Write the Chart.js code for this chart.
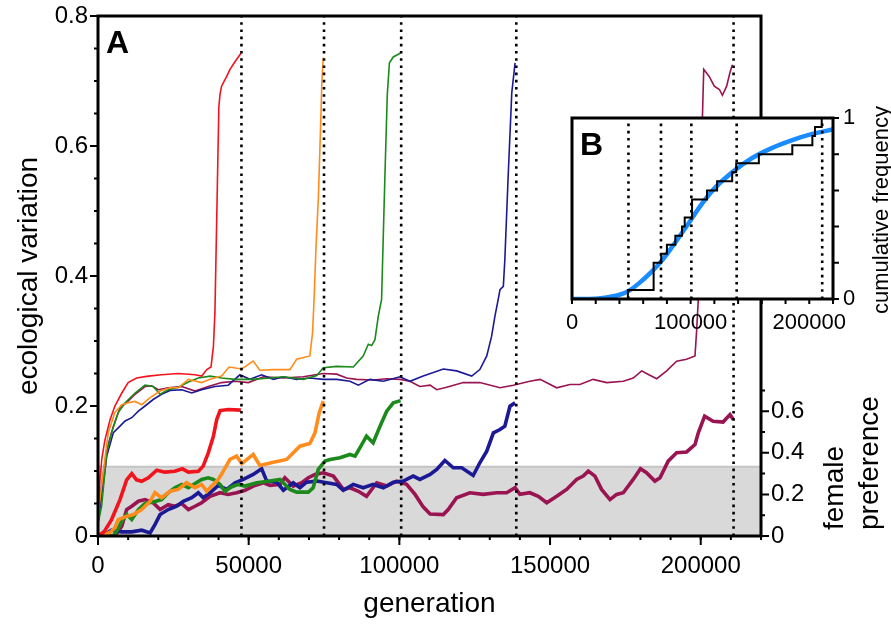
<!DOCTYPE html>
<html>
<head>
<meta charset="utf-8">
<script src="https://cdn.jsdelivr.net/npm/chart.js@4.4.1/dist/chart.umd.min.js"></script>
<style>
  body { margin: 0; background: #fff; }
  #wrap { position: relative; width: 891px; height: 626px; }
  #main { position: absolute; left: 0; top: 0; }
  #inset { position: absolute; left: 540px; top: 95px; }
</style>
</head>
<body>
<div id="wrap">
  <canvas id="main" width="891" height="626"></canvas>
  <canvas id="inset" width="351" height="240"></canvas>
</div>
<script>
// ---- data: [generation, value] ----

// ecological variation (thin lines, left axis)
const redEco = [[0,0.03],[600,0.085],[1300,0.12],[2300,0.148],[4000,0.179],[5600,0.2],[7900,0.22],[10000,0.236],[12800,0.243],[16700,0.246],[21100,0.248],[26600,0.25],[32200,0.248],[34400,0.246],[36100,0.256],[37500,0.26],[38300,0.292],[38800,0.344],[40100,0.66],[40500,0.68],[41000,0.692],[42700,0.707],[43800,0.718],[45500,0.73],[47500,0.743]];
const orangeEco = [[0,0.02],[500,0.05],[1200,0.077],[3400,0.159],[5600,0.19],[7900,0.202],[10000,0.205],[12300,0.207],[14500,0.202],[17300,0.213],[20600,0.223],[23900,0.228],[26600,0.228],[30000,0.241],[34400,0.236],[37200,0.241],[41000,0.246],[43500,0.26],[47700,0.257],[51500,0.269],[53700,0.255],[58200,0.256],[63700,0.256],[65900,0.272],[70300,0.277],[71200,0.313],[71700,0.364],[72300,0.44],[73100,0.518],[73800,0.62],[74300,0.7],[74750,0.736]];
const greenEco = [[0,0.02],[500,0.03],[1200,0.046],[2900,0.128],[4500,0.159],[6700,0.19],[9000,0.205],[12300,0.22],[15600,0.232],[18300,0.23],[20600,0.218],[23300,0.225],[26600,0.229],[30000,0.237],[33300,0.243],[37200,0.246],[41000,0.243],[45500,0.241],[51000,0.241],[57100,0.243],[61500,0.245],[68100,0.241],[72600,0.247],[74750,0.259],[79200,0.261],[84700,0.26],[88000,0.277],[89700,0.295],[90800,0.293],[91900,0.302],[93000,0.338],[94100,0.364],[95200,0.553],[96000,0.68],[96700,0.728],[98000,0.737],[100400,0.743]];
const navyEco = [[0,0.02],[500,0.035],[1200,0.061],[2900,0.123],[5100,0.159],[7300,0.169],[9000,0.177],[11200,0.182],[13400,0.192],[15600,0.2],[18300,0.21],[21100,0.218],[23900,0.224],[27800,0.225],[31100,0.22],[34400,0.225],[38800,0.23],[43200,0.232],[47100,0.248],[50400,0.241],[54300,0.248],[58200,0.241],[61500,0.245],[65900,0.241],[70300,0.243],[74750,0.241],[79200,0.241],[83600,0.238],[86400,0.232],[90200,0.241],[94700,0.238],[100200,0.245],[103500,0.238],[107900,0.246],[114600,0.257],[119000,0.254],[124000,0.246],[126700,0.256],[129000,0.277],[130600,0.307],[131700,0.338],[132800,0.364],[133400,0.379],[134500,0.384],[135000,0.425],[136100,0.553],[137300,0.682],[138400,0.728]];
const maroonEco = [[0,0.02],[500,0.04],[1200,0.077],[2900,0.133],[5100,0.169],[7300,0.197],[9500,0.205],[12300,0.218],[15600,0.23],[17800,0.231],[20000,0.225],[23300,0.228],[27800,0.23],[32200,0.223],[36600,0.23],[41000,0.236],[45500,0.238],[49900,0.236],[54900,0.245],[61500,0.243],[68100,0.245],[74750,0.25],[79200,0.249],[82500,0.243],[85800,0.241],[91300,0.24],[95800,0.242],[100200,0.241],[103500,0.238],[106800,0.23],[110200,0.232],[112400,0.225],[115700,0.229],[121200,0.236],[126700,0.236],[133400,0.228],[137800,0.232],[143300,0.238],[146700,0.241],[152200,0.228],[156600,0.233],[159900,0.233],[164300,0.241],[168800,0.236],[174300,0.238],[177600,0.243],[180400,0.254],[182000,0.25],[185400,0.242],[188700,0.254],[192000,0.269],[195300,0.272],[198100,0.277],[198600,0.313],[199200,0.364],[199700,0.45],[200300,0.6],[201000,0.718],[202800,0.707],[204500,0.692],[206200,0.687],[207200,0.678],[208600,0.692],[209700,0.713],[210500,0.725]];

// female preference (thick lines, right axis)
const redPref = [[0,0],[2000,0.02],[4500,0.079],[7300,0.175],[9500,0.27],[11200,0.3],[12800,0.27],[14500,0.263],[16700,0.28],[19500,0.316],[22200,0.307],[25500,0.311],[28000,0.323],[30000,0.307],[33300,0.311],[34900,0.336],[36600,0.4],[38300,0.48],[39400,0.56],[40500,0.603],[43200,0.608],[47400,0.605]];
const orangePref = [[0,0],[4000,0.017],[5600,0.04],[6700,0.079],[9000,0.092],[11700,0.103],[14500,0.127],[17300,0.167],[18900,0.208],[21100,0.184],[23900,0.215],[26600,0.224],[29400,0.256],[32200,0.232],[34400,0.248],[36100,0.215],[37700,0.24],[39900,0.272],[41600,0.312],[43800,0.368],[46000,0.384],[47700,0.348],[51500,0.392],[53700,0.339],[58200,0.355],[62600,0.368],[64800,0.4],[67000,0.432],[70300,0.445],[72000,0.496],[73400,0.592],[74750,0.648]];
const greenPref = [[0,0],[5000,0],[6500,0.03],[7900,0.071],[9500,0.103],[11200,0.079],[13400,0.127],[15600,0.156],[18300,0.163],[21100,0.175],[23300,0.208],[25500,0.232],[27800,0.248],[30000,0.232],[32200,0.252],[34400,0.272],[36600,0.28],[38300,0.272],[40500,0.248],[42100,0.215],[44400,0.237],[46500,0.248],[48800,0.24],[52700,0.256],[57100,0.264],[60400,0.272],[63700,0.224],[65900,0.211],[69800,0.211],[71400,0.232],[73100,0.32],[75300,0.36],[77000,0.368],[80300,0.376],[83600,0.392],[85300,0.384],[86900,0.424],[89100,0.48],[91300,0.448],[93600,0.528],[95800,0.6],[98000,0.64],[100400,0.651]];
const navyPref = [[0,0],[1500,0],[4500,0.028],[7900,0.02],[11200,0.02],[14500,0.028],[17300,0.015],[18900,0.055],[20600,0.103],[23300,0.127],[26100,0.143],[28300,0.167],[31100,0.184],[33300,0.208],[34900,0.184],[37200,0.208],[39900,0.243],[42700,0.224],[45500,0.256],[48200,0.272],[51500,0.296],[54300,0.323],[56000,0.264],[59300,0.259],[61500,0.22],[64800,0.256],[67000,0.232],[69200,0.259],[72600,0.264],[75900,0.256],[79200,0.248],[81400,0.22],[84700,0.248],[88000,0.232],[91300,0.248],[94700,0.232],[98000,0.259],[101300,0.264],[104600,0.288],[106800,0.272],[110200,0.296],[112400,0.32],[115100,0.363],[117900,0.328],[120700,0.328],[124500,0.291],[126700,0.352],[129000,0.408],[131200,0.496],[133400,0.512],[135000,0.528],[136700,0.624],[138400,0.64]];
const maroonPref = [[0,0],[5600,0],[7900,0.047],[9500,0.127],[11200,0.143],[13400,0.167],[15600,0.175],[18300,0.16],[20600,0.127],[23300,0.151],[25500,0.143],[27800,0.156],[30000,0.127],[32200,0.143],[34400,0.16],[37200,0.191],[40500,0.208],[43200,0.2],[46000,0.208],[48800,0.22],[51500,0.24],[54900,0.256],[57100,0.243],[60400,0.248],[62000,0.28],[64800,0.24],[67600,0.256],[69800,0.28],[72000,0.296],[74750,0.304],[78100,0.288],[81400,0.224],[83600,0.232],[86400,0.215],[89100,0.191],[92500,0.256],[95800,0.24],[99100,0.264],[102400,0.248],[105200,0.2],[107900,0.14],[110200,0.106],[114600,0.103],[116200,0.127],[119000,0.184],[123400,0.208],[127800,0.2],[132300,0.208],[135600,0.208],[138400,0.232],[140000,0.2],[143300,0.208],[146100,0.191],[148900,0.16],[152200,0.191],[155500,0.224],[158800,0.272],[161000,0.288],[162700,0.312],[164900,0.288],[167100,0.224],[169900,0.175],[172100,0.2],[174300,0.208],[177600,0.272],[180000,0.323],[182000,0.304],[184800,0.264],[186500,0.28],[189200,0.36],[192000,0.4],[195300,0.404],[198100,0.44],[199200,0.496],[201300,0.576],[204100,0.552],[207400,0.548],[209700,0.584],[210800,0.56]];

// generation at which each run split (dotted lines)
const splitGens = [47600, 75000, 100600, 138800, 210900];
// shaded preference band (right axis)
const shadeTop = 1 / 3;

// inset B: cumulative frequency of split times and fitted curve
const cumFreq = [[0,0],[47100,0.05],[68800,0.2],[75200,0.25],[80000,0.3],[87100,0.35],[92700,0.4],[95000,0.45],[101200,0.55],[113800,0.6],[122300,0.65],[135000,0.7],[138400,0.75],[157500,0.8],[185700,0.85],[202600,0.9],[204800,0.95],[210500,1]];
const fitCurve = [[0,0],[20000,0.002],[27900,0.007],[39400,0.022],[47100,0.042],[56100,0.085],[67400,0.153],[75200,0.208],[84300,0.287],[95500,0.392],[100300,0.438],[109600,0.527],[120900,0.617],[138600,0.718],[151900,0.779],[168800,0.835],[185700,0.878],[202600,0.912],[220000,0.937]];

// tick labels
const xTicks = [0, 50000, 100000, 150000, 200000];
const ecoTicks = [0, 0.2, 0.4, 0.6, 0.8];
const prefTicks = [0, 0.2, 0.4, 0.6];
const insetXTicks = [0, 100000, 200000];
const insetYTicks = [0, 1];

const runs = [
  { eco: redEco, pref: redPref, color: '#f2141c' },
  { eco: orangeEco, pref: orangePref, color: '#ff8c1c' },
  { eco: greenEco, pref: greenPref, color: '#1b8a1b' },
  { eco: navyEco, pref: navyPref, color: '#1c1995' },
  { eco: maroonEco, pref: maroonPref, color: '#991450' }
];

Chart.defaults.font.family = "'Liberation Sans', Arial, Helvetica, sans-serif";
Chart.defaults.color = '#000';

function pts(arr) { return arr.map(p => ({ x: p[0], y: p[1] })); }
function steps(from, to, step) {
  const out = [];
  for (let v = from; v <= to + 1e-9; v += step) out.push(+v.toFixed(6));
  return out;
}

// draws frame and tick marks from the chart's own scales
const axisMarks = {
  id: 'axisMarks',
  afterDatasetsDraw(chart, args, o) {
    const { ctx, chartArea: a } = chart;
    ctx.save();
    ctx.strokeStyle = '#000';
    o.marks.forEach(m => {
      const s = chart.scales[m.axis];
      ctx.lineWidth = m.width;
      ctx.beginPath();
      m.values.forEach(v => {
        const p = s.getPixelForValue(v);
        if (m.side === 'bottom') { ctx.moveTo(p, a.bottom); ctx.lineTo(p, a.bottom + m.len); }
        else if (m.side === 'left') { ctx.moveTo(a.left, p); ctx.lineTo(a.left - m.len, p); }
        else { ctx.moveTo(a.right, p); ctx.lineTo(a.right + m.len, p); }
      });
      ctx.stroke();
    });
    ctx.lineWidth = o.frame;
    ctx.strokeRect(a.left, a.top, a.right - a.left, a.bottom - a.top);
    ctx.restore();
  }
};

// free text: panel letters and axis titles
const texts = {
  id: 'texts',
  afterDraw(chart, args, o) {
    const ctx = chart.ctx;
    o.items.forEach(t => {
      ctx.save();
      ctx.translate(t.x, t.y);
      if (t.rot) ctx.rotate(t.rot);
      ctx.font = t.font;
      ctx.fillStyle = '#000';
      ctx.textAlign = t.align || 'center';
      ctx.textBaseline = 'alphabetic';
      ctx.fillText(t.text, 0, 0);
      ctx.restore();
    });
  }
};

// white panel behind the inset plot
const insetBg = {
  id: 'insetBg',
  beforeDatasetsDraw(chart) {
    const { ctx, chartArea: a } = chart;
    ctx.save();
    ctx.fillStyle = '#fff';
    ctx.fillRect(a.left, a.top, a.right - a.left, a.bottom - a.top);
    ctx.restore();
  }
};

// ---- main panel A ----
const mainSets = [];
mainSets.push({
  data: pts([[0, shadeTop], [220000, shadeTop]]), yAxisID: 'y2',
  fill: 'origin', backgroundColor: '#d9d9d9', borderColor: '#c4c4c4', borderWidth: 2,
  pointRadius: 0, order: 30
});
runs.forEach(r => {
  mainSets.push({ data: pts(r.eco), yAxisID: 'y', borderColor: r.color, borderWidth: 1.6, pointRadius: 0, tension: 0, order: 10 });
  mainSets.push({ data: pts(r.pref), yAxisID: 'y2', borderColor: r.color, borderWidth: 3.6, pointRadius: 0, tension: 0, order: 10 });
});
splitGens.forEach(g => {
  mainSets.push({ data: pts([[g, 0], [g, 0.8]]), yAxisID: 'y', borderColor: '#000', borderWidth: 2.6, borderDash: [2.6, 4.6], pointRadius: 0, order: 0 });
});

new Chart(document.getElementById('main'), {
  type: 'line',
  data: { datasets: mainSets },
  options: {
    responsive: false,
    animation: false,
    layout: { padding: { left: 0, top: 16, right: 0, bottom: 0 } },
    plugins: {
      legend: { display: false },
      tooltip: { enabled: false },
      axisMarks: {
        frame: 3,
        marks: [
          { axis: 'x', side: 'bottom', values: steps(0, 220000, 10000), len: 4, width: 2 },
          { axis: 'x', side: 'bottom', values: xTicks, len: 9, width: 2 },
          { axis: 'y', side: 'left', values: steps(0, 0.8, 0.05), len: 4, width: 2 },
          { axis: 'y', side: 'left', values: ecoTicks, len: 8, width: 2 },
          { axis: 'y2', side: 'right', values: [0.1, 0.3, 0.5, 0.7], len: 4, width: 2 },
          { axis: 'y2', side: 'right', values: prefTicks, len: 8, width: 2 }
        ]
      },
      texts: {
        items: [
          { text: 'A', x: 106, y: 53, font: 'bold 32px "Liberation Sans", Arial', align: 'left' },
          { text: 'ecological variation', x: 37, y: 276, rot: -Math.PI / 2, font: '28px "Liberation Sans", Arial' },
          { text: 'generation', x: 429.5, y: 612, font: '28px "Liberation Sans", Arial' },
          { text: 'female', x: 843, y: 530, rot: -Math.PI / 2, align: 'left', font: '28px "Liberation Sans", Arial' },
          { text: 'preference', x: 878, y: 530, rot: -Math.PI / 2, align: 'left', font: '28px "Liberation Sans", Arial' }
        ]
      }
    },
    scales: {
      x: {
        type: 'linear', min: 0, max: 220000,
        grid: { display: false, drawTicks: false }, border: { display: false },
        afterBuildTicks: s => { s.ticks = xTicks.map(v => ({ value: v })); },
        afterFit: s => { s.height = 90; },
        ticks: { font: { size: 24 }, padding: 16, maxRotation: 0, autoSkip: false, callback: v => String(v) }
      },
      y: {
        position: 'left', min: 0, max: 0.8,
        grid: { display: false, drawTicks: false }, border: { display: false },
        afterBuildTicks: s => { s.ticks = ecoTicks.map(v => ({ value: v })); },
        afterFit: s => { s.width = 98; s.paddingTop = 0; s.paddingBottom = 0; },
        ticks: { font: { size: 24, lineHeight: 1 }, padding: 10, autoSkip: false, callback: v => String(v) }
      },
      y2: {
        position: 'right', min: 0, max: 2.5,
        grid: { display: false, drawTicks: false }, border: { display: false },
        afterBuildTicks: s => { s.ticks = prefTicks.map(v => ({ value: v })); },
        afterFit: s => { s.width = 130; s.paddingTop = 0; s.paddingBottom = 0; },
        ticks: { font: { size: 24, lineHeight: 1 }, padding: 10, autoSkip: false, callback: v => String(v) }
      }
    }
  },
  plugins: [axisMarks, texts]
});

// ---- inset panel B ----
const insetSets = [
  { data: pts(fitCurve), borderColor: '#1a8cff', borderWidth: 4.5, pointRadius: 0, cubicInterpolationMode: 'monotone', order: 10 },
  { data: pts(cumFreq), borderColor: '#000', borderWidth: 2, pointRadius: 0, stepped: 'before', order: 5 }
];
splitGens.forEach(g => {
  insetSets.push({ data: pts([[g, 0], [g, 1]]), borderColor: '#000', borderWidth: 2.6, borderDash: [2.6, 4.6], pointRadius: 0, order: 0 });
});

new Chart(document.getElementById('inset'), {
  type: 'line',
  data: { datasets: insetSets },
  options: {
    responsive: false,
    animation: false,
    layout: { padding: { left: 32, top: 23, right: 0, bottom: 0 } },
    plugins: {
      legend: { display: false },
      tooltip: { enabled: false },
      axisMarks: {
        frame: 3,
        marks: [
          { axis: 'x', side: 'bottom', values: steps(0, 220000, 20000), len: 5, width: 2 },
          { axis: 'y', side: 'right', values: steps(0, 1, 0.2), len: 6, width: 2 }
        ]
      },
      texts: {
        items: [
          { text: 'B', x: 40, y: 60, font: 'bold 32px "Liberation Sans", Arial', align: 'left' },
          { text: 'cumulative frequency', x: 348, y: 115, rot: -Math.PI / 2, font: '22px "Liberation Sans", Arial' }
        ]
      }
    },
    scales: {
      x: {
        type: 'linear', min: 0, max: 220000,
        grid: { display: false, drawTicks: false }, border: { display: false },
        afterBuildTicks: s => { s.ticks = insetXTicks.map(v => ({ value: v })); },
        afterFit: s => { s.height = 36; },
        ticks: { font: { size: 22 }, padding: 11, maxRotation: 0, autoSkip: false, callback: v => String(v) }
      },
      y: {
        position: 'right', min: 0, max: 1,
        grid: { display: false, drawTicks: false }, border: { display: false },
        afterBuildTicks: s => { s.ticks = insetYTicks.map(v => ({ value: v })); },
        afterFit: s => { s.width = 58; s.paddingTop = 0; s.paddingBottom = 0; },
        ticks: { font: { size: 22, lineHeight: 1 }, padding: 10, autoSkip: false, callback: v => String(v) }
      }
    }
  },
  plugins: [insetBg, axisMarks, texts]
});
</script>
</body>
</html>
